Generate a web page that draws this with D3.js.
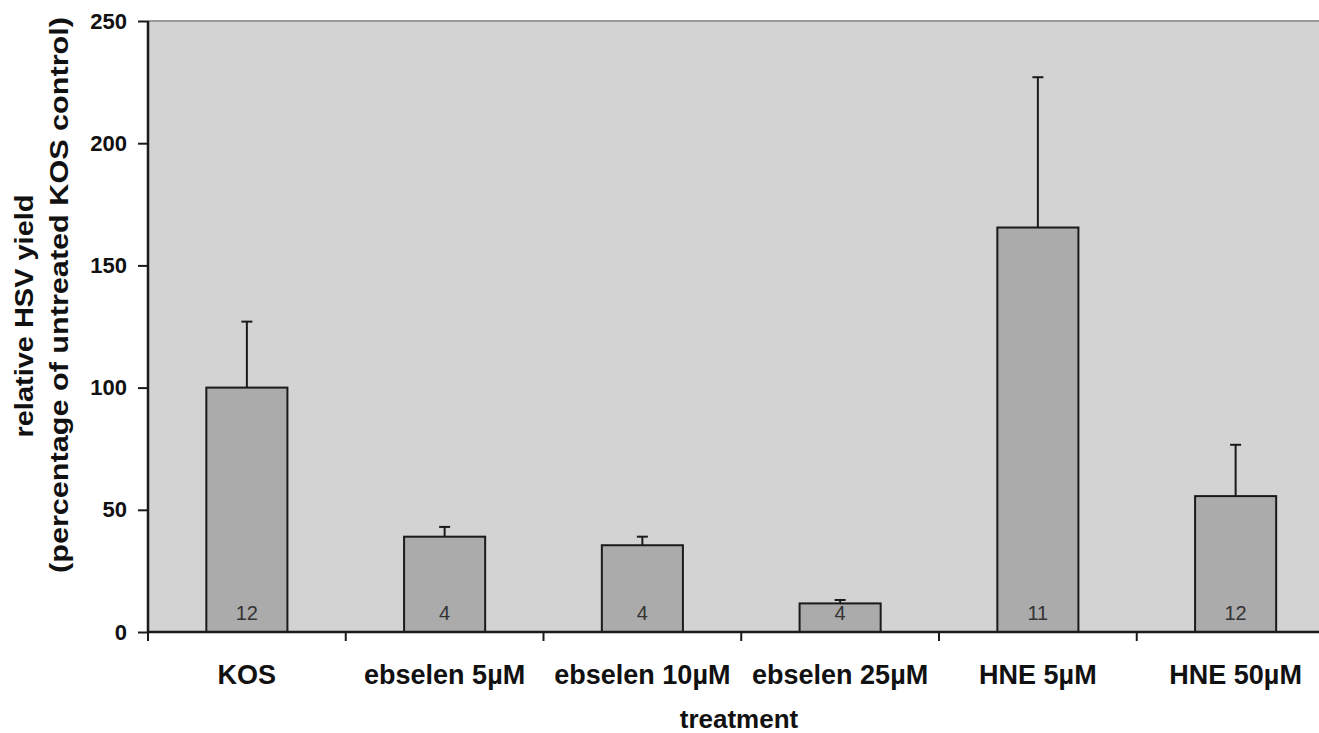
<!DOCTYPE html>
<html>
<head>
<meta charset="utf-8">
<script src="https://cdn.jsdelivr.net/npm/d3@7"></script>
<style>
  html, body { margin: 0; padding: 0; background: #fff; overflow: hidden; }
  svg { display: block; }
  .lbl { font-family: "Liberation Sans", Arial, sans-serif; font-weight: bold; fill: #111; }
</style>
</head>
<body>
<svg id="chart" width="1319" height="733"></svg>
<script>
// HSV yield per treatment, with error (upper bar only) and number of replicates
const categories = ["KOS", "ebselen 5\u00b5M", "ebselen 10\u00b5M", "ebselen 25\u00b5M", "HNE 5\u00b5M", "HNE 50\u00b5M"];
const yieldValues = [100, 39, 35.5, 11.7, 165.5, 55.6];
const errorValues = [27, 4, 3.5, 1.4, 61.5, 21];
const replicates = [12, 4, 4, 4, 11, 12];
const yTicks = [0, 50, 100, 150, 200, 250];

const svg = d3.select("#chart");
const plotLeft = 148, plotTop = 21, plotBottom = 632;
const step = 197.75;

const x = d3.scaleBand()
  .domain(categories)
  .range([plotLeft, plotLeft + step * categories.length])
  .paddingInner(0.59)
  .paddingOuter(0.295);

const y = d3.scaleLinear().domain([0, 250]).range([plotBottom, plotTop]);

// plot area
svg.append("rect")
  .attr("x", plotLeft).attr("y", plotTop)
  .attr("width", 1319 - plotLeft).attr("height", plotBottom - plotTop)
  .attr("fill", "#d3d3d3");
svg.append("line")
  .attr("x1", plotLeft).attr("x2", 1319)
  .attr("y1", plotTop).attr("y2", plotTop)
  .attr("stroke", "#9a9a9a").attr("stroke-width", 2);

// error bars
const eb = svg.append("g").attr("stroke", "#1a1a1a").attr("stroke-width", 2);
categories.forEach((c, i) => {
  const cx = x(c) + x.bandwidth() / 2;
  const yTop = y(yieldValues[i] + errorValues[i]);
  eb.append("line")
    .attr("x1", cx).attr("x2", cx)
    .attr("y1", y(yieldValues[i])).attr("y2", yTop);
  eb.append("line")
    .attr("x1", cx - 5.5).attr("x2", cx + 5.5)
    .attr("y1", yTop).attr("y2", yTop);
});

// bars
svg.append("g").selectAll("rect")
  .data(categories)
  .join("rect")
  .attr("x", d => x(d))
  .attr("y", (d, i) => y(yieldValues[i]))
  .attr("width", x.bandwidth())
  .attr("height", (d, i) => y(0) - y(yieldValues[i]))
  .attr("fill", "#ababab")
  .attr("stroke", "#1a1a1a")
  .attr("stroke-width", 2);

// replicate counts inside bars
svg.append("g").selectAll("text")
  .data(categories)
  .join("text")
  .attr("x", d => x(d) + x.bandwidth() / 2)
  .attr("y", 620)
  .attr("text-anchor", "middle")
  .attr("font-family", "Liberation Sans, Arial, sans-serif")
  .attr("font-size", 20)
  .attr("fill", "#333")
  .text((d, i) => replicates[i]);

// y axis
const yAxis = svg.append("g")
  .attr("transform", `translate(${plotLeft},0)`)
  .call(d3.axisLeft(y).tickValues(yTicks).tickSize(10).tickPadding(11));
yAxis.select(".domain").attr("stroke", "#1a1a1a").attr("stroke-width", 2.5).attr("d", `M0,${plotTop}V${plotBottom}`);
yAxis.selectAll(".tick line").attr("stroke", "#1a1a1a").attr("stroke-width", 2);
yAxis.selectAll(".tick text").attr("class", "lbl").attr("font-size", 22);

// x axis: ticks on category boundaries
const xAxis = svg.append("g");
xAxis.append("line")
  .attr("x1", plotLeft).attr("x2", 1319)
  .attr("y1", plotBottom).attr("y2", plotBottom)
  .attr("stroke", "#1a1a1a").attr("stroke-width", 2.5);
xAxis.selectAll("line.tk")
  .data(d3.range(categories.length))
  .join("line")
  .attr("class", "tk")
  .attr("x1", i => plotLeft + i * x.step()).attr("x2", i => plotLeft + i * x.step())
  .attr("y1", plotBottom).attr("y2", plotBottom + 9)
  .attr("stroke", "#1a1a1a").attr("stroke-width", 2);
xAxis.selectAll("text")
  .data(categories)
  .join("text")
  .attr("class", "lbl")
  .attr("x", d => x(d) + x.bandwidth() / 2)
  .attr("y", 684)
  .attr("text-anchor", "middle")
  .attr("font-size", 27)
  .text(d => d);

// axis titles
svg.append("text")
  .attr("class", "lbl")
  .attr("x", 739).attr("y", 728)
  .attr("text-anchor", "middle")
  .attr("font-size", 26)
  .text("treatment");

const yTitle = svg.append("g").attr("transform", "rotate(-90)");
yTitle.append("text")
  .attr("class", "lbl")
  .attr("x", -316).attr("y", 33)
  .attr("text-anchor", "middle")
  .attr("font-size", 25)
  .attr("textLength", 243)
  .attr("lengthAdjust", "spacingAndGlyphs")
  .text("relative HSV yield");
yTitle.append("text")
  .attr("class", "lbl")
  .attr("x", -295).attr("y", 68)
  .attr("text-anchor", "middle")
  .attr("font-size", 25)
  .attr("textLength", 556)
  .attr("lengthAdjust", "spacingAndGlyphs")
  .text("(percentage of untreated KOS control)");
</script>
</body>
</html>
